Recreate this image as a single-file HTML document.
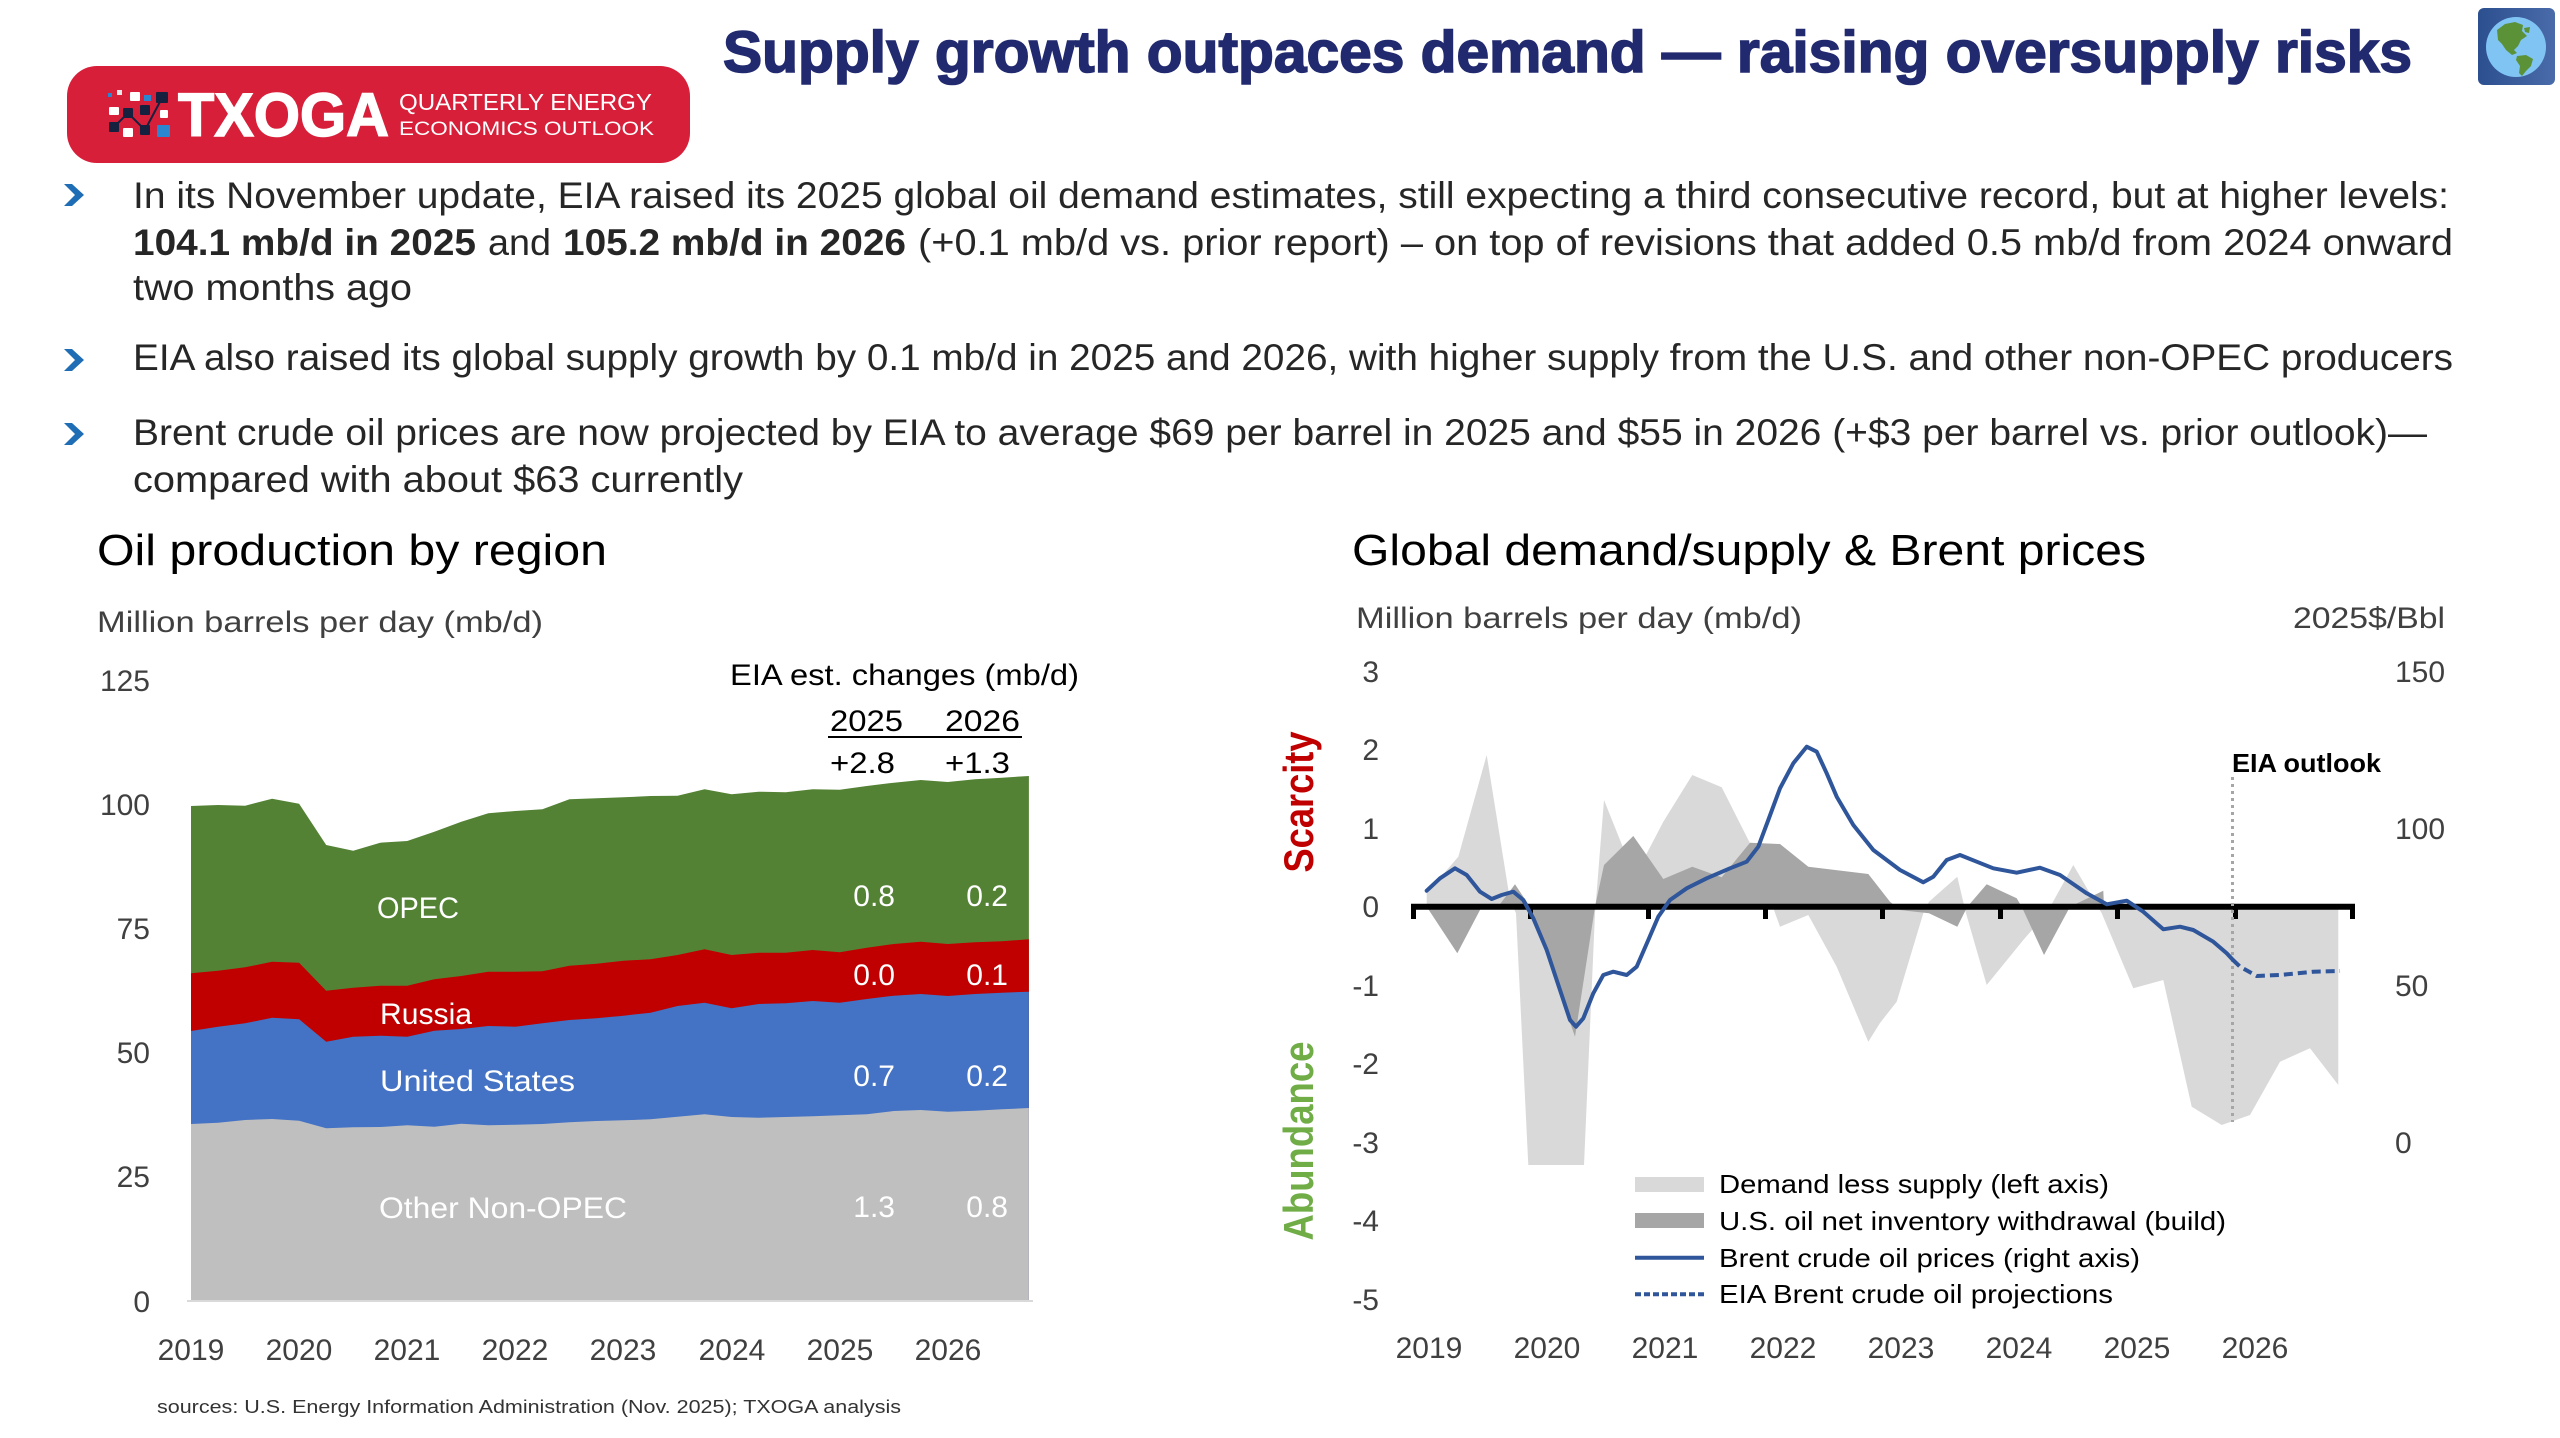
<!DOCTYPE html>
<html><head><meta charset="utf-8"><style>
html,body{margin:0;padding:0;background:#fff;}
svg{display:block;}
text{font-family:"Liberation Sans",Arial,sans-serif;}
</style></head><body>
<svg width="2560" height="1438" viewBox="0 0 2560 1438" xmlns="http://www.w3.org/2000/svg">
<rect x="0" y="0" width="2560" height="1438" fill="#ffffff"/>

<!-- Logo -->
<rect x="67" y="66" width="623" height="97" rx="30" fill="#d71f3a"/>
<g>
<rect x="108" y="93" width="4" height="4" fill="#2a86d0"/>
<rect x="117" y="90" width="5" height="5" fill="#e8e8e8"/>
<rect x="130" y="92" width="10" height="9" rx="1" fill="#fff"/>
<rect x="144" y="95" width="7" height="6" fill="#2a86d0"/>
<rect x="156" y="92" width="12" height="11" rx="1" fill="#16213f"/>
<rect x="109" y="107" width="10" height="8" rx="1" fill="#fff"/>
<rect x="123" y="108" width="10" height="10" rx="1" fill="#16213f"/>
<rect x="140" y="105" width="10" height="10" rx="1" fill="#16213f"/>
<rect x="160" y="110" width="8" height="8" rx="1" fill="#fff"/>
<rect x="109" y="122" width="10" height="10" rx="1" fill="#16213f"/>
<rect x="123" y="128" width="10" height="9" rx="1" fill="#fff"/>
<rect x="140" y="125" width="10" height="10" rx="1" fill="#16213f"/>
<rect x="157" y="125" width="13" height="12" rx="1" fill="#2a86d0"/>
<polyline points="114,127 128,113 145,130 162,98" fill="none" stroke="#16213f" stroke-width="2"/>
</g>
<text x="178" y="136" font-size="61" font-weight="bold" fill="#fff" stroke="#fff" stroke-width="1.5" textLength="211" lengthAdjust="spacingAndGlyphs">TXOGA</text>
<text x="399" y="110" font-size="23" fill="#fff" textLength="253" lengthAdjust="spacingAndGlyphs">QUARTERLY ENERGY</text>
<text x="399" y="135" font-size="19" fill="#fff" textLength="255" lengthAdjust="spacingAndGlyphs">ECONOMICS OUTLOOK</text>

<!-- Title -->
<text x="723" y="72" font-size="58" font-weight="bold" fill="#222a6f" stroke="#222a6f" stroke-width="1.6" textLength="1689" lengthAdjust="spacingAndGlyphs">Supply growth outpaces demand — raising oversupply risks</text>

<!-- Globe icon -->
<defs>
<linearGradient id="gb" x1="0" x2="1" y1="0" y2="0">
<stop offset="0" stop-color="#2c4f8f"/><stop offset="1" stop-color="#4a6ba9"/>
</linearGradient>
</defs>
<rect x="2478" y="8" width="77" height="77" rx="6" fill="url(#gb)"/>
<circle cx="2516" cy="47" r="30" fill="#80c4f4"/>
<path d="M2497,30 L2505,24 L2515,22 L2523,25 L2522,31 L2527,36 L2521,40 L2518,46 L2514,50 L2517,53 L2512,55 L2506,50 L2502,44 L2498,40 Z" fill="#5b9237"/>
<path d="M2517,56 L2526,55 L2533,59 L2531,66 L2526,71 L2522,76 L2519,73 L2520,66 L2516,60 Z" fill="#5b9237"/>
<path d="M2524,28 L2530,27 L2529,33 L2525,32 Z" fill="#5b9237"/>

<!-- Bullets -->
<g fill="#1f6db5">
<polygon points="64,184 72,184 84,195 72,206 64,206 75,195"/>
<polygon points="64,349 72,349 84,360 72,371 64,371 75,360"/>
<polygon points="64,423 72,423 84,434 72,445 64,445 75,434"/>
</g>
<g font-size="37" fill="#262626">
<text x="133" y="208" textLength="2316" lengthAdjust="spacingAndGlyphs">In its November update, EIA raised its 2025 global oil demand estimates, still expecting a third consecutive record, but at higher levels:</text>
<text x="133" y="255" font-weight="bold" textLength="343" lengthAdjust="spacingAndGlyphs">104.1 mb/d in 2025</text>
<text x="488" y="255" textLength="63" lengthAdjust="spacingAndGlyphs">and</text>
<text x="563" y="255" font-weight="bold" textLength="343" lengthAdjust="spacingAndGlyphs">105.2 mb/d in 2026</text>
<text x="918" y="255" textLength="1535" lengthAdjust="spacingAndGlyphs">(+0.1 mb/d vs. prior report) – on top of revisions that added 0.5 mb/d from 2024 onward</text>
<text x="133" y="300" textLength="279" lengthAdjust="spacingAndGlyphs">two months ago</text>
<text x="133" y="370" textLength="2320" lengthAdjust="spacingAndGlyphs">EIA also raised its global supply growth by 0.1 mb/d in 2025 and 2026, with higher supply from the U.S. and other non-OPEC producers</text>
<text x="133" y="445" textLength="2294" lengthAdjust="spacingAndGlyphs">Brent crude oil prices are now projected by EIA to average $69 per barrel in 2025 and $55 in 2026 (+$3 per barrel vs. prior outlook)—</text>
<text x="133" y="492" textLength="610" lengthAdjust="spacingAndGlyphs">compared with about $63 currently</text>
</g>

<!-- ===== LEFT CHART ===== -->
<text x="97" y="565" font-size="44" fill="#000" textLength="510" lengthAdjust="spacingAndGlyphs">Oil production by region</text>
<text x="97" y="632" font-size="30" fill="#404040" textLength="446" lengthAdjust="spacingAndGlyphs">Million barrels per day (mb/d)</text>

<g font-size="30" fill="#404040" text-anchor="end">
<text x="150" y="691">125</text>
<text x="150" y="815">100</text>
<text x="150" y="939">75</text>
<text x="150" y="1063">50</text>
<text x="150" y="1187">25</text>
<text x="150" y="1312">0</text>
</g>

<polygon fill="#548235" points="191,806 218,805 245.1,805.7 272.1,798.7 299.1,803.7 326.2,845 353.2,850.7 380.2,842.7 407.2,841 434.3,831.7 461.3,821.7 488.3,813.3 515.4,811 542.4,809.3 569.4,799.3 596.5,798.3 623.5,797.3 650.5,796 677.5,795.7 704.6,789.3 731.6,794.3 758.6,791.7 785.7,792.3 812.7,789.3 839.7,789.7 866.8,786 893.8,782.7 920.8,780 947.8,782 974.9,779.3 1001.9,777.7 1028.9,776 1028.9,1301 191,1301"/>
<polygon fill="#c00000" points="191,973.3 218,970.7 245.1,967.3 272.1,961.7 299.1,962.7 326.2,990.7 353.2,987.7 380.2,985.7 407.2,985.7 434.3,979.3 461.3,976 488.3,971.7 515.4,971.7 542.4,971.3 569.4,965.7 596.5,963.7 623.5,960.7 650.5,959.3 677.5,955 704.6,949.3 731.6,955 758.6,952.7 785.7,952.7 812.7,950 839.7,952.3 866.8,947.7 893.8,944 920.8,941.7 947.8,944 974.9,942.3 1001.9,941.3 1028.9,939.3 1028.9,1301 191,1301"/>
<polygon fill="#4472c4" points="191,1031 218,1026.7 245.1,1023.3 272.1,1017.7 299.1,1019.3 326.2,1041.7 353.2,1036.7 380.2,1035.7 407.2,1036.7 434.3,1030.7 461.3,1029 488.3,1026 515.4,1026.7 542.4,1023.3 569.4,1020 596.5,1018.3 623.5,1015.7 650.5,1012.7 677.5,1006 704.6,1002.7 731.6,1008.3 758.6,1004 785.7,1003.3 812.7,1001 839.7,1002.7 866.8,999 893.8,995.7 920.8,994 947.8,996 974.9,994 1001.9,992.7 1028.9,991.7 1028.9,1301 191,1301"/>
<polygon fill="#bfbfbf" points="191,1124 218,1122.7 245.1,1120 272.1,1119 299.1,1120.7 326.2,1128.3 353.2,1127.3 380.2,1127 407.2,1125.3 434.3,1126.7 461.3,1123.7 488.3,1125.3 515.4,1124.7 542.4,1124 569.4,1122.3 596.5,1121 623.5,1120.3 650.5,1119.3 677.5,1116.7 704.6,1114.3 731.6,1117 758.6,1117.7 785.7,1117 812.7,1116.3 839.7,1115.3 866.8,1114.3 893.8,1111 920.8,1110 947.8,1111.7 974.9,1110.7 1001.9,1109.3 1028.9,1108 1028.9,1301 191,1301"/>
<line x1="187" y1="1301" x2="1033" y2="1301" stroke="#d9d9d9" stroke-width="2"/>

<g font-size="30" fill="#fff">
<text x="377" y="918" textLength="82" lengthAdjust="spacingAndGlyphs">OPEC</text>
<text x="380" y="1024" textLength="92" lengthAdjust="spacingAndGlyphs">Russia</text>
<text x="380" y="1091" textLength="195" lengthAdjust="spacingAndGlyphs">United States</text>
<text x="379" y="1218" textLength="248" lengthAdjust="spacingAndGlyphs">Other Non-OPEC</text>
</g>
<g font-size="30" fill="#fff" text-anchor="end">
<text x="895" y="906">0.8</text><text x="1008" y="906">0.2</text>
<text x="895" y="985">0.0</text><text x="1008" y="985">0.1</text>
<text x="895" y="1086">0.7</text><text x="1008" y="1086">0.2</text>
<text x="895" y="1217">1.3</text><text x="1008" y="1217">0.8</text>
</g>
<g font-size="30" fill="#000">
<text x="730" y="685" textLength="349" lengthAdjust="spacingAndGlyphs">EIA est. changes (mb/d)</text>
<text x="830" y="731" textLength="73" lengthAdjust="spacingAndGlyphs">2025</text>
<text x="945" y="731" textLength="75" lengthAdjust="spacingAndGlyphs">2026</text>
<text x="830" y="773" textLength="65" lengthAdjust="spacingAndGlyphs">+2.8</text>
<text x="945" y="773" textLength="65" lengthAdjust="spacingAndGlyphs">+1.3</text>
</g>
<line x1="828" y1="737" x2="1022" y2="737" stroke="#000" stroke-width="2"/>

<g font-size="30" fill="#404040" text-anchor="middle">
<text x="191" y="1360">2019</text>
<text x="299" y="1360">2020</text>
<text x="407" y="1360">2021</text>
<text x="515" y="1360">2022</text>
<text x="623" y="1360">2023</text>
<text x="732" y="1360">2024</text>
<text x="840" y="1360">2025</text>
<text x="948" y="1360">2026</text>
</g>

<text x="157" y="1413" font-size="18" fill="#333" textLength="744" lengthAdjust="spacingAndGlyphs">sources: U.S. Energy Information Administration (Nov. 2025); TXOGA analysis</text>

<!-- ===== RIGHT CHART ===== -->
<text x="1352" y="565" font-size="44" fill="#000" textLength="794" lengthAdjust="spacingAndGlyphs">Global demand/supply &amp; Brent prices</text>
<text x="1356" y="628" font-size="30" fill="#404040" textLength="446" lengthAdjust="spacingAndGlyphs">Million barrels per day (mb/d)</text>
<text x="2445" y="628" font-size="30" fill="#404040" text-anchor="end" textLength="152" lengthAdjust="spacingAndGlyphs">2025$/Bbl</text>

<g font-size="30" fill="#404040" text-anchor="end">
<text x="1379" y="682">3</text>
<text x="1379" y="760">2</text>
<text x="1379" y="839">1</text>
<text x="1379" y="917">0</text>
<text x="1379" y="996">-1</text>
<text x="1379" y="1074">-2</text>
<text x="1379" y="1153">-3</text>
<text x="1379" y="1231">-4</text>
<text x="1379" y="1310">-5</text>
</g>
<g font-size="30" fill="#404040">
<text x="2395" y="682">150</text>
<text x="2395" y="839">100</text>
<text x="2395" y="996">50</text>
<text x="2395" y="1153">0</text>
</g>

<text transform="translate(1313,802) rotate(-90)" font-size="42" font-weight="bold" fill="#c00000" text-anchor="middle" textLength="141" lengthAdjust="spacingAndGlyphs">Scarcity</text>
<text transform="translate(1313,1141) rotate(-90)" font-size="42" font-weight="bold" fill="#70ad47" text-anchor="middle" textLength="199" lengthAdjust="spacingAndGlyphs">Abundance</text>

<polygon fill="#d9d9d9" points="1426.7,906.7 1426.7,893.3 1458.3,856.7 1486.7,755 1510,900 1516,913.3 1528.3,1165 1584,1165 1595,913.3 1604,800 1634.7,876.7 1663.3,821.7 1692.3,775 1721.7,787.3 1750,843.3 1780,926.7 1808.3,915 1836.7,966.7 1868.3,1041.7 1880,1023 1896.7,1001.7 1923.3,913.3 1929,901.7 1957.3,876.7 1966,913.3 1986.7,985 2023.3,940 2046.7,913.3 2073.3,865 2101.7,913.3 2133.3,988.3 2163.3,980 2191.7,1106.7 2221.7,1125 2250,1115 2280,1061.7 2310,1048.3 2338.3,1085 2338.3,906.7"/>
<polygon fill="#a6a6a6" points="1426.7,906.7 1457.3,953.3 1481.7,906.7 1498,906.7 1515,884.3 1530,906.7 1575,1036.7 1595,906.7 1604,865 1633.3,836 1663.3,879 1692.3,866.7 1721.7,877.3 1750,842.7 1780,844 1808.3,866.7 1868.3,874 1890,901.7 1900,910 1929,913.3 1957.3,926.7 1967.3,906.7 1986.7,884.3 2016.7,898.3 2021.7,906.7 2044,955 2070,906.7 2103.3,890.7 2104,906.7"/>

<line x1="1411" y1="906.7" x2="2355" y2="906.7" stroke="#000" stroke-width="6"/>
<g fill="#000">
<rect x="1411" y="906" width="5" height="13"/>
<rect x="1528" y="906" width="5" height="13"/>
<rect x="1646" y="906" width="5" height="13"/>
<rect x="1763" y="906" width="5" height="13"/>
<rect x="1880" y="906" width="5" height="13"/>
<rect x="1998" y="906" width="5" height="13"/>
<rect x="2115" y="906" width="5" height="13"/>
<rect x="2233" y="906" width="5" height="13"/>
<rect x="2350" y="906" width="5" height="13"/>
</g>

<line x1="2232.5" y1="777" x2="2232.5" y2="1122" stroke="#a6a6a6" stroke-width="3" stroke-dasharray="3 4"/>
<text x="2232" y="772" font-size="26" font-weight="bold" fill="#000" textLength="149" lengthAdjust="spacingAndGlyphs">EIA outlook</text>

<polyline fill="none" stroke="#2f559a" stroke-width="4" stroke-linejoin="round" stroke-linecap="round" points="1426.7,890.7 1440,878.3 1455,868.3 1466.7,875 1480,891.7 1491.7,899 1501.7,895 1513.3,891.7 1523.3,900 1533.3,918.3 1546.7,950 1560,990 1570,1020 1576,1026.7 1583.3,1018.3 1593.3,993.3 1603.3,975 1613.3,971.7 1626.7,975 1636.7,966.7 1648.3,940 1658.3,916.7 1670,900 1686.7,888.3 1706.7,878.3 1730,868.3 1746.7,861.7 1758.3,846.7 1768.3,820 1780,788.3 1793.3,763.3 1806.7,746.7 1816.7,751.7 1826.7,773.3 1836.7,796.7 1853.3,825 1873.3,850 1900,870 1923.3,882.3 1933.3,876.7 1946.7,860 1960,855 1976.7,861.7 1993.3,868.3 2016.7,872.7 2040,867.7 2060,875 2086.7,893.3 2106.7,904.3 2126.7,900.7 2143.3,911.7 2163.3,929.3 2180,926.7 2193.3,930 2213.3,941.7 2226.7,953.3 2233,960"/>
<polyline fill="none" stroke="#2f559a" stroke-width="4" stroke-dasharray="9 5" stroke-linejoin="round" points="2233,960 2240,966.7 2256.7,976 2280,975 2313.3,971.7 2340,971"/>

<!-- Legend -->
<rect x="1635" y="1177" width="69" height="15" fill="#d9d9d9"/>
<rect x="1635" y="1213" width="69" height="15" fill="#a6a6a6"/>
<line x1="1635" y1="1257.7" x2="1704" y2="1257.7" stroke="#2f559a" stroke-width="4"/>
<line x1="1635" y1="1294.3" x2="1704" y2="1294.3" stroke="#2f559a" stroke-width="4" stroke-dasharray="6 3"/>
<g font-size="26" fill="#000">
<text x="1719" y="1193" textLength="390" lengthAdjust="spacingAndGlyphs">Demand less supply (left axis)</text>
<text x="1719" y="1230" textLength="507" lengthAdjust="spacingAndGlyphs">U.S. oil net inventory withdrawal (build)</text>
<text x="1719" y="1267" textLength="421" lengthAdjust="spacingAndGlyphs">Brent crude oil prices (right axis)</text>
<text x="1719" y="1303" textLength="394" lengthAdjust="spacingAndGlyphs">EIA Brent crude oil projections</text>
</g>

<g font-size="30" fill="#404040" text-anchor="middle">
<text x="1429" y="1358">2019</text>
<text x="1547" y="1358">2020</text>
<text x="1665" y="1358">2021</text>
<text x="1783" y="1358">2022</text>
<text x="1901" y="1358">2023</text>
<text x="2019" y="1358">2024</text>
<text x="2137" y="1358">2025</text>
<text x="2255" y="1358">2026</text>
</g>
</svg>
</body></html>
